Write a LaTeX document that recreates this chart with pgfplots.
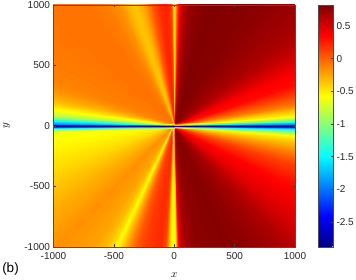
\documentclass[border=0pt]{standalone}
\usepackage{pgfplots}
\usepackage{pgfplotstable}
\pgfplotsset{compat=1.18}
\usepgfplotslibrary{patchplots}
\usepackage{fontspec}
\setmainfont{Liberation Sans}

% boundary of the square, walked counter-clockwise from (-1000,0); c = value on the ray from the origin
\pgfplotstableread{
x y c
0 0 -1.9
0 0 -1.8
0 0 -1.5
0 0 -1.2
0 0 -0.85
0 0 -0.7
0 0 -0.6
0 0 -0.57
0 0 -0.56
0 0 -0.53
0 0 -0.48
0 0 -0.43
0 0 -0.36
0 0 -0.26
0 0 -0.17
0 0 -0.2
0 0 -0.24
0 0 -0.32
0 0 -0.45
0 0 -0.57
0 0 -0.45
0 0 -0.28
0 0 -0.1
0 0 0.05
0 0 0.15
0 0 0.2
0 0 0.2
0 0 0.1
0 0 -0.15
0 0 -0.4
0 0 -0.55
0 0 -0.6
0 0 -0.55
0 0 -0.4
0 0 0.0
0 0 0.33
0 0 0.55
0 0 0.7
0 0 0.78
0 0 0.8
0 0 0.76
0 0 0.7
0 0 0.62
0 0 0.46
0 0 0.33
0 0 0.22
0 0 0.14
0 0 0.0
0 0 -0.15
0 0 -0.3
0 0 -0.4
0 0 -0.57
0 0 -0.8
0 0 -1.05
0 0 -1.4
0 0 -1.8
0 0 -2.0
0 0 -1.8
0 0 -1.49
0 0 -1.05
0 0 -0.6
0 0 -0.45
0 0 -0.38
0 0 -0.1
0 0 0.13
0 0 0.33
0 0 0.38
0 0 0.48
0 0 0.6
0 0 0.68
0 0 0.72
0 0 0.76
0 0 0.8
0 0 0.81
0 0 0.8
0 0 0.75
0 0 0.68
0 0 0.6
0 0 0.45
0 0 0.3
0 0 0.05
0 0 -0.25
0 0 -0.45
0 0 -0.5
0 0 -0.3
0 0 0.0
0 0 0.18
0 0 0.24
0 0 0.2
0 0 0.05
0 0 -0.15
0 0 -0.3
0 0 -0.36
0 0 -0.32
0 0 -0.18
0 0 -0.1
0 0 -0.06
0 0 -0.06
0 0 -0.08
0 0 -0.1
0 0 -0.12
0 0 -0.18
0 0 -0.26
0 0 -0.4
0 0 -0.57
0 0 -0.75
0 0 -1.0
0 0 -1.45
0 0 -1.8
0 0 -1.9
-1000 0 -1.9
-1000 -9 -1.8
-1000 -17 -1.5
-1000 -26 -1.2
-1000 -41 -0.85
-1000 -52 -0.7
-1000 -70 -0.6
-1000 -87 -0.57
-1000 -123 -0.56
-1000 -176 -0.53
-1000 -268 -0.48
-1000 -364 -0.43
-1000 -488 -0.36
-1000 -700 -0.26
-1000 -1000 -0.17
-800 -1000 -0.2
-650 -1000 -0.24
-560 -1000 -0.32
-500 -1000 -0.45
-470 -1000 -0.57
-440 -1000 -0.45
-400 -1000 -0.28
-350 -1000 -0.1
-300 -1000 0.05
-230 -1000 0.15
-150 -1000 0.2
-100 -1000 0.2
-65 -1000 0.1
-45 -1000 -0.15
-30 -1000 -0.4
-15 -1000 -0.55
0 -1000 -0.6
12 -1000 -0.55
20 -1000 -0.4
30 -1000 0.0
40 -1000 0.33
60 -1000 0.55
100 -1000 0.7
200 -1000 0.78
400 -1000 0.8
600 -1000 0.76
800 -1000 0.7
1000 -1000 0.62
1000 -750 0.46
1000 -500 0.33
1000 -400 0.22
1000 -330 0.14
1000 -260 0.0
1000 -200 -0.15
1000 -150 -0.3
1000 -120 -0.4
1000 -80 -0.57
1000 -60 -0.8
1000 -45 -1.05
1000 -30 -1.4
1000 -15 -1.8
1000 0 -2.0
1000 15 -1.8
1000 30 -1.49
1000 50 -1.05
1000 77 -0.6
1000 100 -0.45
1000 120 -0.38
1000 170 -0.1
1000 255 0.13
1000 340 0.33
1000 450 0.38
1000 530 0.48
1000 650 0.6
1000 800 0.68
1000 1000 0.72
800 1000 0.76
600 1000 0.8
400 1000 0.81
250 1000 0.8
150 1000 0.75
100 1000 0.68
70 1000 0.6
50 1000 0.45
35 1000 0.3
20 1000 0.05
10 1000 -0.25
0 1000 -0.45
-5 1000 -0.5
-12 1000 -0.3
-20 1000 0.0
-35 1000 0.18
-70 1000 0.24
-120 1000 0.2
-180 1000 0.05
-230 1000 -0.15
-280 1000 -0.3
-320 1000 -0.36
-370 1000 -0.32
-450 1000 -0.18
-550 1000 -0.1
-700 1000 -0.06
-1000 1000 -0.06
-1000 700 -0.08
-1000 500 -0.1
-1000 365 -0.12
-1000 290 -0.18
-1000 230 -0.26
-1000 175 -0.4
-1000 130 -0.57
-1000 90 -0.75
-1000 63 -1.0
-1000 36 -1.45
-1000 17 -1.8
-1000 0 -1.9
}\wedgetable

% thin band along x = 0, lower half
\pgfplotstableread{
x y c
-12 -1000 -0.56
-12 -500 -0.5
-12 -250 -0.1
-12 -100 0.2
-12 -50 0.14
-12 -20 -0.28
0 -1000 -0.65
0 -500 -0.8
0 -250 -0.95
0 -100 -1.0
0 -50 -1.0
0 -20 -1.0
12 -1000 -0.55
12 -500 -0.24
12 -250 0.45
12 -100 0.72
12 -50 0.79
12 -20 0.76
}\vbandtable

% thin band along y = 0
\pgfplotstableread{
x y c
-1000 -20 -1.4
-700 -20 -1.15
-500 -20 -0.87
-350 -20 -0.67
-250 -20 -0.58
-180 -20 -0.56
-120 -20 -0.53
-80 -20 -0.49
-50 -20 -0.41
-30 -20 -0.28
-15 -20 -0.21
0 -20 -0.6
15 -20 0.73
30 -20 0.42
50 -20 0.22
80 -20 -0.03
120 -20 -0.25
180 -20 -0.44
250 -20 -0.57
350 -20 -0.85
500 -20 -1.17
700 -20 -1.44
1000 -20 -1.67
-1000 0 -2.8
-700 0 -2.8
-500 0 -2.8
-350 0 -2.8
-250 0 -2.8
-180 0 -2.8
-120 0 -2.8
-80 0 -2.8
-50 0 -2.8
-30 0 -2.8
-15 0 -2.8
0 0 -2.8
15 0 -2.8
30 0 -2.8
50 0 -2.8
80 0 -2.8
120 0 -2.8
180 0 -2.8
250 0 -2.8
350 0 -2.8
500 0 -2.8
700 0 -2.8
1000 0 -2.8
-1000 20 -1.75
-700 20 -1.6
-500 20 -1.38
-350 20 -1.1
-250 20 -0.83
-180 20 -0.65
-120 20 -0.42
-80 20 -0.23
-50 20 -0.11
-30 20 -0.08
-15 20 -0.06
0 20 -0.45
15 20 0.77
30 20 0.61
50 20 0.36
80 20 0.12
120 20 -0.12
180 20 -0.42
250 20 -0.58
350 20 -0.9
500 20 -1.27
700 20 -1.52
1000 20 -1.7
}\bandtable

\begin{document}
\begin{tikzpicture}
\useasboundingbox (0,0) rectangle (356pt,280pt);
\begin{axis}[
  at={(53.5pt,33pt)}, anchor=south west,
  width=241.5pt, height=242pt, scale only axis,
  xmin=-1000, xmax=1000, ymin=-1000, ymax=1000,
  enlargelimits=false,
  axis on top,
  colormap/jet,
  point meta min=-2.88, point meta max=0.82,
  xtick={-1000,-500,0,500,1000},
  xticklabels={-1000,-500,0,500,1000},
  ytick={-1000,-500,0,500,1000},
  yticklabels={-1000,-500,0,500,1000},
  ticklabel style={font=\fontsize{10}{11}\selectfont, text=black!85},
  xticklabel style={yshift=-1.5pt},
  tick align=inside,
  xtick pos=both, ytick pos=both,
  xticklabel pos=left, yticklabel pos=left,
  major tick length=2.5pt,
  tick style={black!75, line width=0.5pt},
  axis line style={black!70, line width=0.5pt},
  xlabel={$x$}, ylabel={$y$},
  label style={font=\fontsize{11}{12}\selectfont},
  xlabel style={at={(axis description cs:0.5,-0.1157)}, anchor=center},
  ylabel style={at={(axis description cs:-0.1946,0.5)}, anchor=center},
  colorbar,
  colorbar style={
    at={(parent axis.north east)}, anchor=north west, xshift=14.5pt,
    width=15pt,
    ytick={-2.5,-2,-1.5,-1,-0.5,0,0.5},
    yticklabels={-2.5,-2,-1.5,-1,-0.5,0,0.5},
    ytick pos=right, yticklabel pos=right,
    tick align=inside,
    major tick length=2.5pt,
    tick style={black!75, line width=0.5pt},
    ticklabel style={font=\fontsize{10}{11}\selectfont, text=black!85},
    axis line style={black!70, line width=0.5pt},
  },
]
\addplot[patch, patch type=bilinear, shader=interp, mesh input=lattice,
  mesh/cols=110, point meta=explicit]
  table[x=x, y=y, meta=c] \wedgetable;
\addplot[patch, patch type=bilinear, shader=interp, mesh input=lattice,
  mesh/cols=6, point meta=explicit]
  table[x=x, y=y, meta=c] \vbandtable;
\addplot[patch, patch type=bilinear, shader=interp, mesh input=lattice,
  mesh/cols=23, point meta=explicit]
  table[x=x, y=y, meta=c] \bandtable;
\end{axis}
\node[font=\fontsize{13.5}{14}\selectfont, anchor=center] at (10.5pt,10.5pt) {(b)};
\end{tikzpicture}
\end{document}
